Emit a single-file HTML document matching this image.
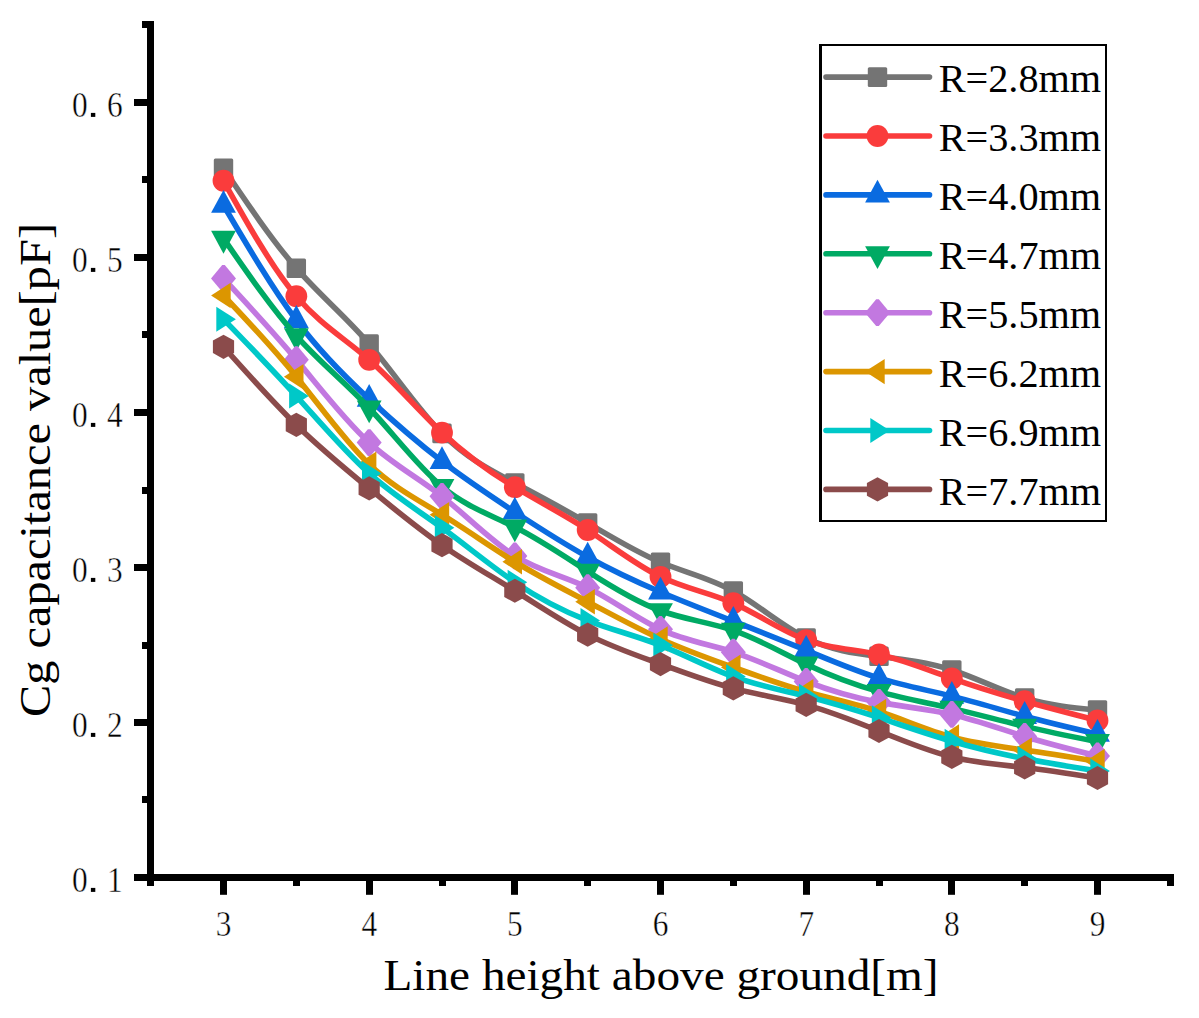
<!DOCTYPE html>
<html><head><meta charset="utf-8"><title>Cg capacitance chart</title>
<style>html,body{margin:0;padding:0;background:#fff;}body{width:1199px;height:1018px;overflow:hidden;font-family:"Liberation Serif",serif;}svg{display:block;}</style>
</head><body>
<svg width="1199" height="1018" viewBox="0 0 1199 1018"><g fill="#000">
<rect x="147" y="21" width="7" height="865"/>
<rect x="134" y="874" width="1040" height="7"/>
<rect x="134" y="874.00" width="13" height="7"/>
<rect x="134" y="719.00" width="13" height="7"/>
<rect x="134" y="564.00" width="13" height="7"/>
<rect x="134" y="409.00" width="13" height="7"/>
<rect x="134" y="254.00" width="13" height="7"/>
<rect x="134" y="99.00" width="13" height="7"/>
<rect x="142" y="796" width="5" height="7"/>
<rect x="142" y="642" width="5" height="7"/>
<rect x="142" y="487" width="5" height="7"/>
<rect x="142" y="331" width="5" height="7"/>
<rect x="142" y="176" width="5" height="7"/>
<rect x="142" y="21" width="5" height="7"/>
<rect x="220" y="881" width="7" height="13.8"/>
<rect x="366" y="881" width="7" height="13.8"/>
<rect x="511" y="881" width="7" height="13.8"/>
<rect x="657" y="881" width="7" height="13.8"/>
<rect x="803" y="881" width="7" height="13.8"/>
<rect x="948" y="881" width="7" height="13.8"/>
<rect x="1094" y="881" width="7" height="13.8"/>
<rect x="147" y="881" width="7" height="5"/>
<rect x="293" y="881" width="7" height="5"/>
<rect x="439" y="881" width="7" height="5"/>
<rect x="584" y="881" width="7" height="5"/>
<rect x="730" y="881" width="7" height="5"/>
<rect x="876" y="881" width="7" height="5"/>
<rect x="1021" y="881" width="7" height="5"/>
<rect x="1167" y="881" width="7" height="5"/>
</g>
<g font-family="Liberation Serif" font-size="36.5" text-anchor="middle" fill="#000" stroke="#fff" stroke-width="0.45"><text transform="translate(79.80,891.70) scale(0.86,1)">0</text><text transform="translate(114.90,891.70) scale(0.86,1)">1</text><rect x="90.9" y="887.90" width="4.4" height="4.0" fill="#000" stroke="none"/><text transform="translate(79.80,736.70) scale(0.86,1)">0</text><text transform="translate(114.90,736.70) scale(0.86,1)">2</text><rect x="90.9" y="732.90" width="4.4" height="4.0" fill="#000" stroke="none"/><text transform="translate(79.80,581.70) scale(0.86,1)">0</text><text transform="translate(114.90,581.70) scale(0.86,1)">3</text><rect x="90.9" y="577.90" width="4.4" height="4.0" fill="#000" stroke="none"/><text transform="translate(79.80,426.70) scale(0.86,1)">0</text><text transform="translate(114.90,426.70) scale(0.86,1)">4</text><rect x="90.9" y="422.90" width="4.4" height="4.0" fill="#000" stroke="none"/><text transform="translate(79.80,271.70) scale(0.86,1)">0</text><text transform="translate(114.90,271.70) scale(0.86,1)">5</text><rect x="90.9" y="267.90" width="4.4" height="4.0" fill="#000" stroke="none"/><text transform="translate(79.80,116.70) scale(0.86,1)">0</text><text transform="translate(114.90,116.70) scale(0.86,1)">6</text><rect x="90.9" y="112.90" width="4.4" height="4.0" fill="#000" stroke="none"/><text transform="translate(223.60,936.20) scale(0.86,1)">3</text><text transform="translate(369.27,936.20) scale(0.86,1)">4</text><text transform="translate(514.93,936.20) scale(0.86,1)">5</text><text transform="translate(660.60,936.20) scale(0.86,1)">6</text><text transform="translate(806.27,936.20) scale(0.86,1)">7</text><text transform="translate(951.94,936.20) scale(0.86,1)">8</text><text transform="translate(1097.60,936.20) scale(0.86,1)">9</text></g>
<text x="383.5" y="990" font-family="Liberation Serif" font-size="45" textLength="555" lengthAdjust="spacingAndGlyphs" fill="#000">Line height above ground[m]</text>
<text transform="translate(50,717) rotate(-90)" x="0" y="0" font-family="Liberation Serif" font-size="45" textLength="494" lengthAdjust="spacingAndGlyphs" fill="#000">Cg capacitance value[pF]</text>
<path d="M223.50 168.22C247.78 204.27 272.06 240.32 296.33 268.19C320.61 296.07 344.89 315.78 369.17 343.99C393.44 372.20 417.72 408.91 442.00 433.43C466.28 457.94 490.56 470.28 514.83 483.03C539.11 495.77 563.39 508.94 587.67 523.02C611.95 537.09 636.22 552.08 660.50 562.23C684.78 572.38 709.06 577.71 733.33 591.06C757.61 604.41 781.89 625.79 806.17 638.02C830.45 650.26 854.72 653.34 879.00 656.32C903.28 659.29 927.56 662.15 951.84 669.96C976.11 677.76 1000.39 690.50 1024.67 698.01C1048.95 705.52 1073.22 707.81 1097.50 710.10" fill="none" stroke="#747474" stroke-width="5.6" stroke-linejoin="round" stroke-linecap="round"/>
<rect x="213.80" y="158.42" width="19.4" height="19.6" rx="1.5" fill="#747474"/>
<rect x="286.63" y="258.39" width="19.4" height="19.6" rx="1.5" fill="#747474"/>
<rect x="359.47" y="334.19" width="19.4" height="19.6" rx="1.5" fill="#747474"/>
<rect x="432.30" y="423.62" width="19.4" height="19.6" rx="1.5" fill="#747474"/>
<rect x="505.13" y="473.23" width="19.4" height="19.6" rx="1.5" fill="#747474"/>
<rect x="577.97" y="513.22" width="19.4" height="19.6" rx="1.5" fill="#747474"/>
<rect x="650.80" y="552.43" width="19.4" height="19.6" rx="1.5" fill="#747474"/>
<rect x="723.63" y="581.26" width="19.4" height="19.6" rx="1.5" fill="#747474"/>
<rect x="796.47" y="628.23" width="19.4" height="19.6" rx="1.5" fill="#747474"/>
<rect x="869.30" y="646.52" width="19.4" height="19.6" rx="1.5" fill="#747474"/>
<rect x="942.13" y="660.16" width="19.4" height="19.6" rx="1.5" fill="#747474"/>
<rect x="1014.97" y="688.21" width="19.4" height="19.6" rx="1.5" fill="#747474"/>
<rect x="1087.80" y="700.30" width="19.4" height="19.6" rx="1.5" fill="#747474"/>
<path d="M223.50 180.77C247.78 224.22 272.06 267.66 296.33 296.25C320.61 324.84 344.89 338.57 369.17 359.80C393.44 381.03 417.72 409.77 442.00 432.65C466.28 455.53 490.56 472.55 514.83 487.21C539.11 501.87 563.39 514.17 587.67 529.99C611.95 545.81 636.22 565.13 660.50 576.80C684.78 588.47 709.06 592.47 733.33 603.15C757.61 613.83 781.89 631.19 806.17 640.04C830.45 648.89 854.72 649.23 879.00 654.46C903.28 659.68 927.56 669.77 951.84 678.48C976.11 687.19 1000.39 694.50 1024.67 701.26C1048.95 708.03 1073.22 714.26 1097.50 720.49" fill="none" stroke="#FA3C3C" stroke-width="5.6" stroke-linejoin="round" stroke-linecap="round"/>
<circle cx="223.50" cy="180.77" r="10.9" fill="#FA3C3C"/>
<circle cx="296.33" cy="296.25" r="10.9" fill="#FA3C3C"/>
<circle cx="369.17" cy="359.80" r="10.9" fill="#FA3C3C"/>
<circle cx="442.00" cy="432.65" r="10.9" fill="#FA3C3C"/>
<circle cx="514.83" cy="487.21" r="10.9" fill="#FA3C3C"/>
<circle cx="587.67" cy="529.99" r="10.9" fill="#FA3C3C"/>
<circle cx="660.50" cy="576.80" r="10.9" fill="#FA3C3C"/>
<circle cx="733.33" cy="603.15" r="10.9" fill="#FA3C3C"/>
<circle cx="806.17" cy="640.04" r="10.9" fill="#FA3C3C"/>
<circle cx="879.00" cy="654.46" r="10.9" fill="#FA3C3C"/>
<circle cx="951.84" cy="678.48" r="10.9" fill="#FA3C3C"/>
<circle cx="1024.67" cy="701.26" r="10.9" fill="#FA3C3C"/>
<circle cx="1097.50" cy="720.49" r="10.9" fill="#FA3C3C"/>
<path d="M223.50 205.26C247.78 246.49 272.06 287.72 296.33 320.27C320.61 352.83 344.89 376.70 369.17 399.17C393.44 421.64 417.72 442.71 442.00 461.33C466.28 479.94 490.56 496.12 514.83 512.01C539.11 527.90 563.39 543.52 587.67 556.96C611.95 570.40 636.22 581.68 660.50 591.99C684.78 602.30 709.06 611.64 733.33 621.13C757.61 630.62 781.89 640.25 806.17 650.27C830.45 660.29 854.72 670.71 879.00 678.17C903.28 685.63 927.56 690.13 951.84 696.15C976.11 702.17 1000.39 709.72 1024.67 716.30C1048.95 722.88 1073.22 728.50 1097.50 734.12" fill="none" stroke="#0A6BE0" stroke-width="5.6" stroke-linejoin="round" stroke-linecap="round"/>
<path d="M223.50 190.06L235.90 212.86L211.10 212.86Z" fill="#0A6BE0"/>
<path d="M296.33 305.07L308.73 327.88L283.93 327.88Z" fill="#0A6BE0"/>
<path d="M369.17 383.97L381.57 406.77L356.77 406.77Z" fill="#0A6BE0"/>
<path d="M442.00 446.13L454.40 468.93L429.60 468.93Z" fill="#0A6BE0"/>
<path d="M514.83 496.81L527.23 519.61L502.43 519.61Z" fill="#0A6BE0"/>
<path d="M587.67 541.76L600.07 564.56L575.27 564.56Z" fill="#0A6BE0"/>
<path d="M660.50 576.79L672.90 599.59L648.10 599.59Z" fill="#0A6BE0"/>
<path d="M733.33 605.93L745.73 628.73L720.93 628.73Z" fill="#0A6BE0"/>
<path d="M806.17 635.07L818.57 657.87L793.77 657.87Z" fill="#0A6BE0"/>
<path d="M879.00 662.97L891.40 685.77L866.60 685.77Z" fill="#0A6BE0"/>
<path d="M951.84 680.95L964.24 703.75L939.44 703.75Z" fill="#0A6BE0"/>
<path d="M1024.67 701.10L1037.07 723.90L1012.27 723.90Z" fill="#0A6BE0"/>
<path d="M1097.50 718.92L1109.90 741.73L1085.10 741.73Z" fill="#0A6BE0"/>
<path d="M223.50 238.43C247.78 273.61 272.06 308.79 296.33 335.93C320.61 363.07 344.89 382.19 369.17 408.01C393.44 433.82 417.72 466.34 442.00 486.59C466.28 506.84 490.56 514.83 514.83 527.05C539.11 539.26 563.39 555.70 587.67 571.38C611.95 587.05 636.22 601.97 660.50 610.75C684.78 619.52 709.06 622.14 733.33 630.43C757.61 638.72 781.89 652.68 806.17 664.22C830.45 675.76 854.72 684.88 879.00 691.65C903.28 698.43 927.56 702.84 951.84 708.39C976.11 713.95 1000.39 720.63 1024.67 726.38C1048.95 732.12 1073.22 736.92 1097.50 741.72" fill="none" stroke="#00AA64" stroke-width="5.6" stroke-linejoin="round" stroke-linecap="round"/>
<path d="M223.50 253.63L235.90 230.83L211.10 230.83Z" fill="#00AA64"/>
<path d="M296.33 351.13L308.73 328.33L283.93 328.33Z" fill="#00AA64"/>
<path d="M369.17 423.21L381.57 400.41L356.77 400.41Z" fill="#00AA64"/>
<path d="M442.00 501.79L454.40 478.99L429.60 478.99Z" fill="#00AA64"/>
<path d="M514.83 542.25L527.23 519.45L502.43 519.45Z" fill="#00AA64"/>
<path d="M587.67 586.58L600.07 563.77L575.27 563.77Z" fill="#00AA64"/>
<path d="M660.50 625.95L672.90 603.14L648.10 603.14Z" fill="#00AA64"/>
<path d="M733.33 645.63L745.73 622.83L720.93 622.83Z" fill="#00AA64"/>
<path d="M806.17 679.42L818.57 656.62L793.77 656.62Z" fill="#00AA64"/>
<path d="M879.00 706.86L891.40 684.05L866.60 684.05Z" fill="#00AA64"/>
<path d="M951.84 723.60L964.24 700.79L939.44 700.79Z" fill="#00AA64"/>
<path d="M1024.67 741.58L1037.07 718.77L1012.27 718.77Z" fill="#00AA64"/>
<path d="M1097.50 756.92L1109.90 734.12L1085.10 734.12Z" fill="#00AA64"/>
<path d="M223.50 278.43C247.78 304.56 272.06 330.69 296.33 359.65C320.61 388.60 344.89 420.38 369.17 442.57C393.44 464.76 417.72 477.36 442.00 496.36C466.28 515.35 490.56 540.75 514.83 555.88C539.11 571.00 563.39 575.87 587.67 587.65C611.95 599.43 636.22 618.13 660.50 629.35C684.78 640.56 709.06 644.28 733.33 652.13C757.61 659.98 781.89 671.96 806.17 681.42C830.45 690.89 854.72 697.84 879.00 702.35C903.28 706.86 927.56 708.92 951.84 714.44C976.11 719.96 1000.39 728.95 1024.67 736.45C1048.95 743.95 1073.22 749.97 1097.50 755.98" fill="none" stroke="#C278E0" stroke-width="5.6" stroke-linejoin="round" stroke-linecap="round"/>
<path d="M222.20 265.03L224.80 265.03L236.00 278.43L224.80 291.83L222.20 291.83L211.00 278.43Z" fill="#C278E0"/>
<path d="M295.03 346.25L297.63 346.25L308.83 359.65L297.63 373.05L295.03 373.05L283.83 359.65Z" fill="#C278E0"/>
<path d="M367.87 429.17L370.47 429.17L381.67 442.57L370.47 455.97L367.87 455.97L356.67 442.57Z" fill="#C278E0"/>
<path d="M440.70 482.96L443.30 482.96L454.50 496.36L443.30 509.75L440.70 509.75L429.50 496.36Z" fill="#C278E0"/>
<path d="M513.53 542.48L516.13 542.48L527.33 555.88L516.13 569.27L513.53 569.27L502.33 555.88Z" fill="#C278E0"/>
<path d="M586.37 574.25L588.97 574.25L600.17 587.65L588.97 601.05L586.37 601.05L575.17 587.65Z" fill="#C278E0"/>
<path d="M659.20 615.95L661.80 615.95L673.00 629.35L661.80 642.75L659.20 642.75L648.00 629.35Z" fill="#C278E0"/>
<path d="M732.03 638.73L734.63 638.73L745.83 652.13L734.63 665.53L732.03 665.53L720.83 652.13Z" fill="#C278E0"/>
<path d="M804.87 668.02L807.47 668.02L818.67 681.42L807.47 694.82L804.87 694.82L793.67 681.42Z" fill="#C278E0"/>
<path d="M877.70 688.95L880.30 688.95L891.50 702.35L880.30 715.75L877.70 715.75L866.50 702.35Z" fill="#C278E0"/>
<path d="M950.54 701.04L953.13 701.04L964.34 714.44L953.13 727.84L950.54 727.84L939.34 714.44Z" fill="#C278E0"/>
<path d="M1023.37 723.05L1025.97 723.05L1037.17 736.45L1025.97 749.85L1023.37 749.85L1012.17 736.45Z" fill="#C278E0"/>
<path d="M1096.20 742.58L1098.80 742.58L1110.00 755.98L1098.80 769.38L1096.20 769.38L1085.00 755.98Z" fill="#C278E0"/>
<path d="M223.50 295.48C247.78 321.10 272.06 346.72 296.33 376.70C320.61 406.67 344.89 440.98 369.17 464.27C393.44 487.56 417.72 499.81 442.00 514.64C466.28 529.48 490.56 546.90 514.83 561.76C539.11 576.63 563.39 588.92 587.67 601.76C611.95 614.59 636.22 627.95 660.50 638.95C684.78 649.96 709.06 658.62 733.33 667.32C757.61 676.02 781.89 684.77 806.17 691.65C830.45 698.54 854.72 703.57 879.00 711.50C903.28 719.42 927.56 730.26 951.84 737.07C976.11 743.88 1000.39 746.68 1024.67 750.09C1048.95 753.50 1073.22 757.53 1097.50 761.56" fill="none" stroke="#DC9600" stroke-width="5.6" stroke-linejoin="round" stroke-linecap="round"/>
<path d="M211.10 295.48L230.70 282.78L230.70 308.18Z" fill="#DC9600"/>
<path d="M283.93 376.70L303.53 364.00L303.53 389.40Z" fill="#DC9600"/>
<path d="M356.77 464.27L376.37 451.57L376.37 476.97Z" fill="#DC9600"/>
<path d="M429.60 514.64L449.20 501.94L449.20 527.35Z" fill="#DC9600"/>
<path d="M502.43 561.76L522.03 549.06L522.03 574.47Z" fill="#DC9600"/>
<path d="M575.27 601.76L594.87 589.06L594.87 614.46Z" fill="#DC9600"/>
<path d="M648.10 638.95L667.70 626.25L667.70 651.65Z" fill="#DC9600"/>
<path d="M720.93 667.32L740.53 654.62L740.53 680.02Z" fill="#DC9600"/>
<path d="M793.77 691.65L813.37 678.95L813.37 704.36Z" fill="#DC9600"/>
<path d="M866.60 711.50L886.20 698.79L886.20 724.20Z" fill="#DC9600"/>
<path d="M939.44 737.07L959.04 724.37L959.04 749.77Z" fill="#DC9600"/>
<path d="M1012.27 750.09L1031.87 737.39L1031.87 762.79Z" fill="#DC9600"/>
<path d="M1085.10 761.56L1104.70 748.86L1104.70 774.26Z" fill="#DC9600"/>
<path d="M223.50 319.19C247.78 344.21 272.06 369.22 296.33 396.07C320.61 422.92 344.89 451.60 369.17 473.41C393.44 495.23 417.72 510.18 442.00 527.82C466.28 545.46 490.56 565.78 514.83 582.23C539.11 598.67 563.39 611.22 587.67 620.51C611.95 629.80 636.22 635.82 660.50 645.31C684.78 654.80 709.06 667.76 733.33 676.62C757.61 685.48 781.89 690.24 806.17 696.31C830.45 702.37 854.72 709.74 879.00 717.69C903.28 725.65 927.56 734.19 951.84 741.25C976.11 748.32 1000.39 753.90 1024.67 758.62C1048.95 763.33 1073.22 767.17 1097.50 771.01" fill="none" stroke="#00C8C8" stroke-width="5.6" stroke-linejoin="round" stroke-linecap="round"/>
<path d="M235.90 319.19L216.30 306.69L216.30 331.69Z" fill="#00C8C8"/>
<path d="M308.73 396.07L289.13 383.57L289.13 408.57Z" fill="#00C8C8"/>
<path d="M381.57 473.41L361.97 460.91L361.97 485.91Z" fill="#00C8C8"/>
<path d="M454.40 527.82L434.80 515.32L434.80 540.32Z" fill="#00C8C8"/>
<path d="M527.23 582.23L507.63 569.73L507.63 594.73Z" fill="#00C8C8"/>
<path d="M600.07 620.51L580.47 608.01L580.47 633.01Z" fill="#00C8C8"/>
<path d="M672.90 645.31L653.30 632.81L653.30 657.81Z" fill="#00C8C8"/>
<path d="M745.73 676.62L726.13 664.12L726.13 689.12Z" fill="#00C8C8"/>
<path d="M818.57 696.31L798.97 683.81L798.97 708.81Z" fill="#00C8C8"/>
<path d="M891.40 717.69L871.80 705.19L871.80 730.19Z" fill="#00C8C8"/>
<path d="M964.24 741.25L944.63 728.75L944.63 753.75Z" fill="#00C8C8"/>
<path d="M1037.07 758.62L1017.47 746.12L1017.47 771.12Z" fill="#00C8C8"/>
<path d="M1109.90 771.01L1090.30 758.51L1090.30 783.51Z" fill="#00C8C8"/>
<path d="M223.50 346.78C247.78 374.03 272.06 401.29 296.33 424.90C320.61 448.51 344.89 468.49 369.17 488.45C393.44 508.41 417.72 528.36 442.00 545.18C466.28 562.00 490.56 575.69 514.83 590.75C539.11 605.81 563.39 622.24 587.67 634.62C611.95 646.99 636.22 655.30 660.50 664.07C684.78 672.83 709.06 682.05 733.33 688.40C757.61 694.75 781.89 698.23 806.17 704.83C830.45 711.43 854.72 721.14 879.00 731.02C903.28 740.91 927.56 750.98 951.84 756.91C976.11 762.84 1000.39 764.63 1024.67 767.45C1048.95 770.27 1073.22 774.13 1097.50 777.99" fill="none" stroke="#8B4B4B" stroke-width="5.6" stroke-linejoin="round" stroke-linecap="round"/>
<path d="M223.50 334.68L234.10 340.48L234.10 353.08L223.50 358.88L212.90 353.08L212.90 340.48Z" fill="#8B4B4B"/>
<path d="M296.33 412.80L306.93 418.60L306.93 431.20L296.33 437.00L285.73 431.20L285.73 418.60Z" fill="#8B4B4B"/>
<path d="M369.17 476.35L379.77 482.15L379.77 494.75L369.17 500.55L358.57 494.75L358.57 482.15Z" fill="#8B4B4B"/>
<path d="M442.00 533.08L452.60 538.88L452.60 551.48L442.00 557.28L431.40 551.48L431.40 538.88Z" fill="#8B4B4B"/>
<path d="M514.83 578.65L525.43 584.45L525.43 597.05L514.83 602.85L504.23 597.05L504.23 584.45Z" fill="#8B4B4B"/>
<path d="M587.67 622.51L598.27 628.32L598.27 640.91L587.67 646.72L577.07 640.91L577.07 628.32Z" fill="#8B4B4B"/>
<path d="M660.50 651.97L671.10 657.77L671.10 670.37L660.50 676.17L649.90 670.37L649.90 657.77Z" fill="#8B4B4B"/>
<path d="M733.33 676.30L743.93 682.10L743.93 694.70L733.33 700.50L722.73 694.70L722.73 682.10Z" fill="#8B4B4B"/>
<path d="M806.17 692.73L816.77 698.53L816.77 711.13L806.17 716.93L795.57 711.13L795.57 698.53Z" fill="#8B4B4B"/>
<path d="M879.00 718.92L889.60 724.73L889.60 737.32L879.00 743.12L868.40 737.32L868.40 724.73Z" fill="#8B4B4B"/>
<path d="M951.84 744.81L962.44 750.61L962.44 763.21L951.84 769.01L941.24 763.21L941.24 750.61Z" fill="#8B4B4B"/>
<path d="M1024.67 755.35L1035.27 761.15L1035.27 773.75L1024.67 779.55L1014.07 773.75L1014.07 761.15Z" fill="#8B4B4B"/>
<path d="M1097.50 765.89L1108.10 771.69L1108.10 784.29L1097.50 790.09L1086.90 784.29L1086.90 771.69Z" fill="#8B4B4B"/>
<rect x="819" y="44" width="288" height="478" fill="#000"/><rect x="822" y="46" width="283" height="474" fill="#fff"/>
<line x1="826" y1="77.10" x2="929.5" y2="77.10" stroke="#747474" stroke-width="5.6" stroke-linecap="round"/>
<rect x="867.80" y="67.30" width="19.4" height="19.6" rx="1.5" fill="#747474"/>
<text x="938.7" y="92.30" font-family="Liberation Serif" font-size="41" textLength="162.5" lengthAdjust="spacingAndGlyphs" fill="#000">R=2.8mm</text>
<line x1="826" y1="136.00" x2="929.5" y2="136.00" stroke="#FA3C3C" stroke-width="5.6" stroke-linecap="round"/>
<circle cx="877.50" cy="136.00" r="10.9" fill="#FA3C3C"/>
<text x="938.7" y="151.20" font-family="Liberation Serif" font-size="41" textLength="162.5" lengthAdjust="spacingAndGlyphs" fill="#000">R=3.3mm</text>
<line x1="826" y1="194.90" x2="929.5" y2="194.90" stroke="#0A6BE0" stroke-width="5.6" stroke-linecap="round"/>
<path d="M877.50 179.70L889.90 202.50L865.10 202.50Z" fill="#0A6BE0"/>
<text x="938.7" y="210.10" font-family="Liberation Serif" font-size="41" textLength="162.5" lengthAdjust="spacingAndGlyphs" fill="#000">R=4.0mm</text>
<line x1="826" y1="253.80" x2="929.5" y2="253.80" stroke="#00AA64" stroke-width="5.6" stroke-linecap="round"/>
<path d="M877.50 269.00L889.90 246.20L865.10 246.20Z" fill="#00AA64"/>
<text x="938.7" y="269.00" font-family="Liberation Serif" font-size="41" textLength="162.5" lengthAdjust="spacingAndGlyphs" fill="#000">R=4.7mm</text>
<line x1="826" y1="312.70" x2="929.5" y2="312.70" stroke="#C278E0" stroke-width="5.6" stroke-linecap="round"/>
<path d="M876.20 299.30L878.80 299.30L890.00 312.70L878.80 326.10L876.20 326.10L865.00 312.70Z" fill="#C278E0"/>
<text x="938.7" y="327.90" font-family="Liberation Serif" font-size="41" textLength="162.5" lengthAdjust="spacingAndGlyphs" fill="#000">R=5.5mm</text>
<line x1="826" y1="371.60" x2="929.5" y2="371.60" stroke="#DC9600" stroke-width="5.6" stroke-linecap="round"/>
<path d="M865.10 371.60L884.70 358.90L884.70 384.30Z" fill="#DC9600"/>
<text x="938.7" y="386.80" font-family="Liberation Serif" font-size="41" textLength="162.5" lengthAdjust="spacingAndGlyphs" fill="#000">R=6.2mm</text>
<line x1="826" y1="430.50" x2="929.5" y2="430.50" stroke="#00C8C8" stroke-width="5.6" stroke-linecap="round"/>
<path d="M889.90 430.50L870.30 418.00L870.30 443.00Z" fill="#00C8C8"/>
<text x="938.7" y="445.70" font-family="Liberation Serif" font-size="41" textLength="162.5" lengthAdjust="spacingAndGlyphs" fill="#000">R=6.9mm</text>
<line x1="826" y1="489.40" x2="929.5" y2="489.40" stroke="#8B4B4B" stroke-width="5.6" stroke-linecap="round"/>
<path d="M877.50 477.30L888.10 483.10L888.10 495.70L877.50 501.50L866.90 495.70L866.90 483.10Z" fill="#8B4B4B"/>
<text x="938.7" y="504.60" font-family="Liberation Serif" font-size="41" textLength="162.5" lengthAdjust="spacingAndGlyphs" fill="#000">R=7.7mm</text></svg>
</body></html>
